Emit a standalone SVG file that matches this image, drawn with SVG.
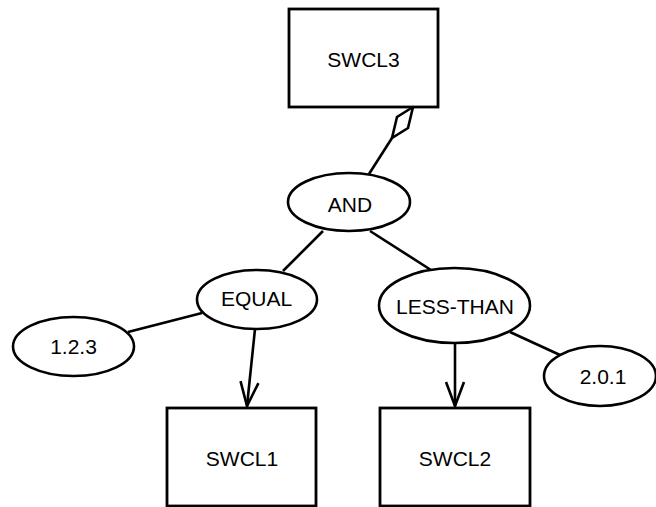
<svg xmlns="http://www.w3.org/2000/svg" width="656" height="507" viewBox="0 0 656 507">
<style>
.box{fill:#fff;stroke:#000;stroke-width:2.8}
.ell{fill:#fff;stroke:#000;stroke-width:2.6}
.ln{fill:none;stroke:#000;stroke-width:2.6}
text{font-family:"Liberation Sans",Arial,sans-serif;font-size:21px;text-anchor:middle;fill:#000}
</style>
<defs>
<marker id="open" markerUnits="userSpaceOnUse" viewBox="-28 -13 32 26" refX="0" refY="0" markerWidth="32" markerHeight="26" orient="auto">
<path d="M-24,-9 L0,0 L-24,9" fill="none" stroke="#000" stroke-width="2.6"/>
</marker>
</defs>
<g id="connectors">
<polygon class="ln" points="413,107 397,117 392,138 408,128"/>
<line class="ln" x1="392" y1="138" x2="369" y2="174"/>
<line class="ln" x1="323" y1="231" x2="283" y2="271"/>
<line class="ln" x1="370" y1="231" x2="431" y2="270"/>
<line class="ln" x1="128" y1="332" x2="202" y2="313"/>
<line class="ln" x1="510" y1="332" x2="560" y2="355"/>
<line class="ln" x1="255" y1="329" x2="247" y2="406" marker-end="url(#open)"/>
<line class="ln" x1="455" y1="343" x2="455" y2="406" marker-end="url(#open)"/>
</g>
<g id="SWCL3"><rect class="box" x="289" y="9" width="149" height="98"/><text x="363.5" y="67">SWCL3</text></g>
<g id="AND"><ellipse class="ell" cx="349" cy="202" rx="61" ry="29"/><text x="350" y="212">AND</text></g>
<g id="EQUAL"><ellipse class="ell" cx="257" cy="299.5" rx="60" ry="29.5"/><text x="256.5" y="306">EQUAL</text></g>
<g id="LESS-THAN"><ellipse class="ell" cx="454.5" cy="305.5" rx="75.5" ry="37.5"/><text x="455" y="314">LESS-THAN</text></g>
<g id="v123"><ellipse class="ell" cx="73.5" cy="346.5" rx="60.5" ry="29.5"/><text x="73.5" y="354">1.2.3</text></g>
<g id="v201"><ellipse class="ell" cx="600" cy="376" rx="56" ry="30"/><text x="603" y="384">2.0.1</text></g>
<g id="SWCL1"><rect class="box" x="167" y="408" width="149" height="98"/><text x="242" y="466">SWCL1</text></g>
<g id="SWCL2"><rect class="box" x="380" y="408" width="150" height="98"/><text x="455" y="466">SWCL2</text></g>
</svg>
